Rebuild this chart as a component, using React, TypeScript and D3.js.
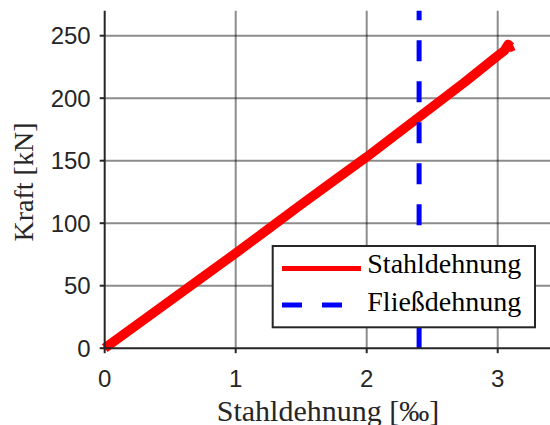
import React from "react";
import * as d3 from "d3";

const strain = [0, 0.25, 0.5, 0.75, 1.0, 1.25, 1.5, 1.75, 2.0, 2.25, 2.5, 2.75, 3.0, 3.05, 3.08, 3.1, 3.12];
const force = [0, 19, 38, 57, 76, 95.5, 115, 134, 153, 173, 193, 213, 234, 238, 243, 241, 242];
const yieldStrain = [2.4, 2.4];
const yieldForce = [0, 270];
const xTicks = [0, 1, 2, 3];
const yTicks = [0, 50, 100, 150, 200, 250];
const seriesNames = ["Stahldehnung", "Fließdehnung"];

const W = 550;
const H = 425;
const AX = "#262626";
const SANS = "'Liberation Sans', Arial, sans-serif";
const SERIF = "'Liberation Serif', 'Times New Roman', serif";

export default function App() {
  const x = d3.scaleLinear().domain([0, 3.5]).range([104.7, 104.7 + 3.5 * 131]);
  const y = d3.scaleLinear().domain([0, 270]).range([348.2, 348.2 - 270 * 1.25]);
  const [x0, x1] = [x(0), W];
  const [y0, y1] = [y(0), y(270)];

  const steel = d3
    .line<number>()
    .x((_, i) => x(strain[i]))
    .y((_, i) => y(force[i]))(strain);
  const yieldPath = d3
    .line<number>()
    .x((_, i) => x(yieldStrain[i]))
    .y((_, i) => y(yieldForce[i]))(yieldStrain);

  const lg = { x: 272.7, y: 246, w: 262.3, h: 81.3 };

  return (
    <svg
      width={W}
      height={H}
      style={{ position: "absolute", left: 0, top: 0, background: "#fff" }}
    >
      <rect x={0} y={0} width={W} height={H} fill="#fff" />
      {/* grid */}
      {xTicks.filter((t) => t > 0).map((t) => (
        <line key={"gx" + t} x1={x(t)} x2={x(t)} y1={y0} y2={y1} stroke="#000" strokeOpacity={0.45} strokeWidth={2} />
      ))}
      {yTicks.filter((t) => t > 0).map((t) => (
        <line key={"gy" + t} x1={x0} x2={x1} y1={y(t)} y2={y(t)} stroke="#000" strokeOpacity={0.45} strokeWidth={2} />
      ))}
      {/* data */}
      <path d={steel || ""} fill="none" stroke="#ff0000" strokeWidth={9.5} strokeLinejoin="round" strokeLinecap="butt" />
      <path d={yieldPath || ""} fill="none" stroke="#0000ff" strokeWidth={5} strokeDasharray="21 20" />
      {/* axes */}
      <line x1={x0} x2={x0} y1={y0 + 1} y2={y1} stroke={AX} strokeWidth={2} />
      <line x1={x0 - 1} x2={x1} y1={y0} y2={y0} stroke={AX} strokeWidth={2} />
      {yTicks.map((t) => (
        <g key={"ty" + t}>
          <line x1={x0 - 5} x2={x0} y1={y(t)} y2={y(t)} stroke={AX} strokeWidth={2} />
          <text x={x0 - 14} y={y(t)} dy="0.35em" textAnchor="end" fontFamily={SANS} fontSize={24} fill={AX}>
            {t}
          </text>
        </g>
      ))}
      {xTicks.map((t) => (
        <g key={"tx" + t}>
          <line x1={x(t)} x2={x(t)} y1={y0} y2={y0 + 5} stroke={AX} strokeWidth={2} />
          <text x={x(t)} y={387} textAnchor="middle" fontFamily={SANS} fontSize={24} fill={AX}>
            {t}
          </text>
        </g>
      ))}
      <text x={328} y={421} textAnchor="middle" fontFamily={SERIF} fontSize={30} fill={AX}>
        Stahldehnung [‰]
      </text>
      <text
        transform={`translate(33,182) rotate(-90)`}
        textAnchor="middle"
        fontFamily={SERIF}
        fontSize={28}
        fill={AX}
      >
        Kraft [kN]
      </text>
      {/* legend */}
      <rect x={lg.x} y={lg.y} width={lg.w} height={lg.h} fill="#fff" stroke={AX} strokeWidth={2} />
      <line x1={282} x2={361} y1={268.5} y2={268.5} stroke="#ff0000" strokeWidth={5} />
      <line x1={282} x2={361} y1={305} y2={305} stroke="#0000ff" strokeWidth={5} strokeDasharray="20 20" />
      <text x={367.3} y={273.3} fontFamily={SERIF} fontSize={28} fill="#000">
        {seriesNames[0]}
      </text>
      <text x={367.3} y={311} fontFamily={SERIF} fontSize={28} fill="#000">
        {seriesNames[1]}
      </text>
    </svg>
  );
}
